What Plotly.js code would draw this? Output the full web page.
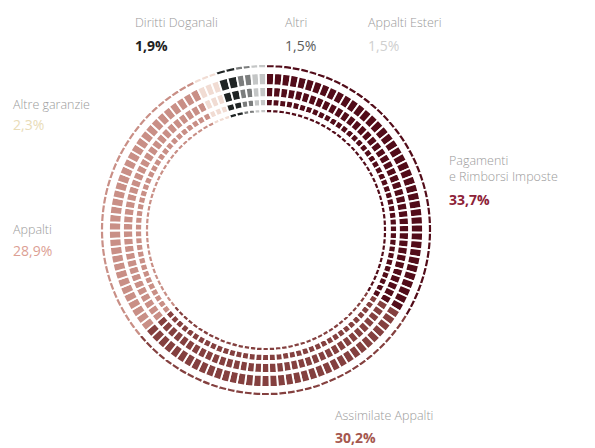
<!DOCTYPE html>
<html>
<head>
<meta charset="utf-8">
<script src="https://cdn.plot.ly/plotly-3.0.1.min.js"></script>
<style>html,body{margin:0;padding:0;background:#fff;}#chart{width:595px;height:448px;}</style>
</head>
<body>
<div id="chart"></div>
<script>
// Data (clockwise from 12 o'clock)
const categories = ["Pagamenti e Rimborsi Imposte", "Assimilate Appalti", "Appalti", "Altre garanzie", "Diritti Doganali", "Altri", "Appalti Esteri"];
const shares = [33.7, 30.2, 28.9, 2.3, 1.9, 1.5, 1.5];
const shareLabels = ["33,7%", "30,2%", "28,9%", "2,3%", "1,9%", "1,5%", "1,5%"];
const sliceColors = ["#520c19", "#84403f", "#c98f86", "#f1dcd3", "#1f2424", "#7b7d7d", "#c4c6c6"];

// Styling
const labelColors = ["#8d2238", "#a5574e", "#dc9f94", "#e9dcb8", "#222222", "#5b5b5b", "#cfcfcf"];
const labelBold = [true, true, false, false, true, false, false];
const tileSize = 0.85;           // percent of the circle covered by one mosaic tile
const cx = 266, cy = 230, W = 595, H = 448;
// rings: [outer radius, inner radius] in px
const rings = [[166, 162], [157, 145], [143, 133], [131, 124], [121, 117]];

// build tiles from data
const tileVals = [], tileCols = [], tileNames = [];
shares.forEach((v, i) => {
  const n = Math.max(1, Math.round(v / tileSize));
  for (let k = 0; k < n; k++) {
    tileVals.push(v / n);
    tileCols.push(sliceColors[i]);
    tileNames.push(categories[i] + " " + k);
  }
});

const traces = rings.map(([ro, ri]) => ({
  type: "pie",
  values: tileVals,
  labels: tileNames,
  sort: false,
  direction: "clockwise",
  rotation: 0,
  hole: ri / ro,
  textinfo: "none",
  hoverinfo: "skip",
  showlegend: false,
  marker: { colors: tileCols, line: { color: "#ffffff", width: 1.8 } },
  domain: {
    x: [(cx - ro) / W, (cx + ro) / W],
    y: [((H - cy) - ro) / H, ((H - cy) + ro) / H]
  }
}));

// label positions (px): [x, y of name line, y of percent line]
const labelPos = [
  [447, 158, 199], [333, 415, 437], [11, 230, 251], [11, 104, 124],
  [133, 22, 45], [283, 22, 45], [366, 22, 45]
];
const nameLines = [
  "Pagamenti<br>e Rimborsi Imposte", "Assimilate Appalti", "Appalti", "Altre garanzie",
  "Diritti Doganali", "Altri", "Appalti Esteri"
];

const annotations = [];
labelPos.forEach(([x, y1, y2], i) => {
  annotations.push({
    xref: "paper", yref: "paper", x: x / W, y: 1 - y1 / H,
    xanchor: "left", yanchor: i === 0 ? "middle" : "middle",
    align: "left", showarrow: false,
    text: nameLines[i],
    yshift: i === 0 ? -10 : 0,
    font: { family: "Open Sans, sans-serif", size: 12.5, color: "#9a9a9a", weight: 300 }
  });
  annotations.push({
    xref: "paper", yref: "paper", x: x / W, y: 1 - y2 / H,
    xanchor: "left", yanchor: "middle", showarrow: false,
    text: labelBold[i] ? "<b>" + shareLabels[i] + "</b>" : shareLabels[i],
    font: { family: "Open Sans, sans-serif", size: 14, color: labelColors[i] }
  });
});

const layout = {
  width: W, height: H,
  margin: { l: 0, r: 0, t: 0, b: 0 },
  paper_bgcolor: "#ffffff",
  plot_bgcolor: "#ffffff",
  showlegend: false,
  annotations: annotations
};

Plotly.newPlot("chart", traces, layout, { staticPlot: true, displayModeBar: false });
</script>
</body>
</html>
